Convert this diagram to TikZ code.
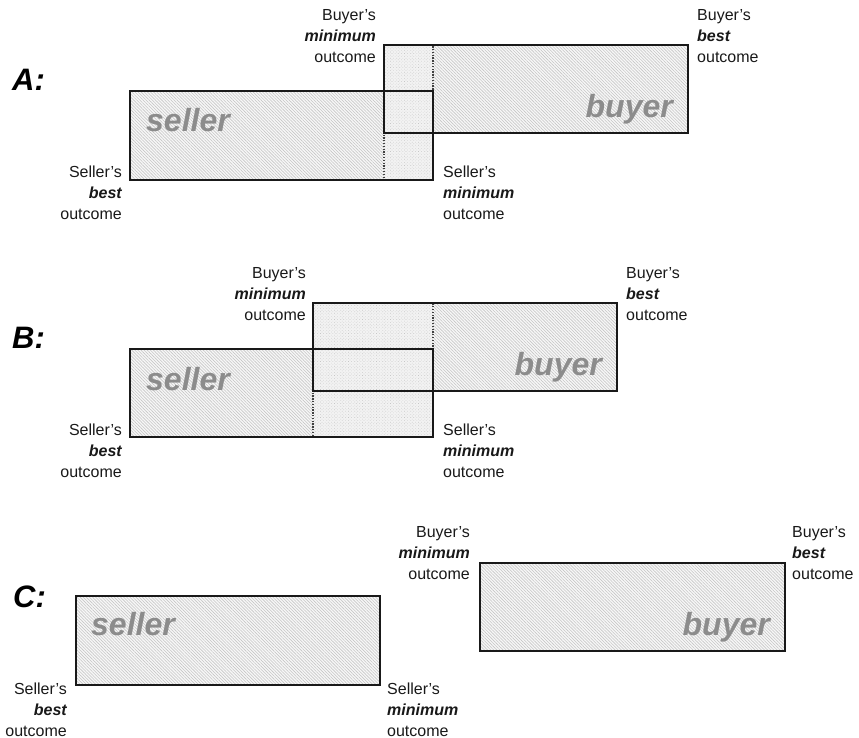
\documentclass[tikz,border=0pt]{standalone}
\usepackage{fontspec}
\setmainfont{Liberation Sans}
\usetikzlibrary{patterns.meta}
\tikzset{
  hatch/.style={fill=gray!6, postaction={pattern={Lines[angle=-45,distance=2.2pt,line width=0.6pt]}, pattern color=gray!45}},
  dotzone/.style={fill=gray!10, postaction={pattern={Dots[angle=45,distance=2.2pt,radius=0.45pt]}, pattern color=gray!45}},
  outline/.style={draw=black!90, line width=2pt},
  dotline/.style={draw=black!75, line width=1.3pt, dash pattern=on 1.3pt off 1.5pt},
  lab/.style={font=\fontsize{16}{21}\selectfont, inner sep=0pt, text=black!90},
  who/.style={font=\fontsize{32}{36}\selectfont\bfseries\itshape, text=gray!90, inner sep=0pt},
  panel/.style={font=\fontsize{31}{34}\selectfont\bfseries\itshape, inner sep=0pt, anchor=base west},
}
\newcommand{\bbi}[1]{{\bfseries\itshape #1}}
\begin{document}
\begin{tikzpicture}[x=1pt,y=-1pt]
\useasboundingbox (0,0) rectangle (859,738);
% ---------------- A ----------------
\node[panel] (pA) at (12,91) {A:};
\path[hatch] (130,91) rectangle (433,180);
\path[hatch] (384,45) rectangle (688,133);
\path[dotzone] (384,45) rectangle (433,180);
\path[dotline] (384,45) rectangle (433,180);
\path[outline] (130,91) rectangle (433,180);
\path[outline] (384,45) rectangle (688,133);
\node[who, anchor=base west] (sA) at (146,132) {seller};
\node[who, anchor=base east] (bA) at (673,118) {buyer};
\node[lab, align=right, anchor=north east] (bmA) at (376,9.4) {Buyer's\\\bbi{minimum}\\outcome};
\node[lab, align=left, anchor=north west] (bbA) at (697,9.4) {Buyer's\\\bbi{best}\\outcome};
\node[lab, align=right, anchor=north east] (sbA) at (122,165.4) {Seller's\\\bbi{best}\\outcome};
\node[lab, align=left, anchor=north west] (smA) at (443,165.4) {Seller's\\\bbi{minimum}\\outcome};
% ---------------- B ----------------
\node[panel] (pB) at (12,348) {B:};
\path[hatch] (130,349) rectangle (433,437);
\path[hatch] (313,303) rectangle (617,391);
\path[dotzone] (313,303) rectangle (433,437);
\path[dotline] (313,303) rectangle (433,437);
\path[outline] (130,349) rectangle (433,437);
\path[outline] (313,303) rectangle (617,391);
\node[who, anchor=base west] (sB) at (146,390) {seller};
\node[who, anchor=base east] (bB) at (602,375) {buyer};
\node[lab, align=right, anchor=north east] (bmB) at (306,267.4) {Buyer's\\\bbi{minimum}\\outcome};
\node[lab, align=left, anchor=north west] (bbB) at (626,267.4) {Buyer's\\\bbi{best}\\outcome};
\node[lab, align=right, anchor=north east] (sbB) at (122,423.4) {Seller's\\\bbi{best}\\outcome};
\node[lab, align=left, anchor=north west] (smB) at (443,423.4) {Seller's\\\bbi{minimum}\\outcome};
% ---------------- C ----------------
\node[panel] (pC) at (13,607) {C:};
\path[hatch] (76,596) rectangle (380,685);
\path[hatch] (480,563) rectangle (785,651);
\path[outline] (76,596) rectangle (380,685);
\path[outline] (480,563) rectangle (785,651);
\node[who, anchor=base west] (sC) at (91,635) {seller};
\node[who, anchor=base east] (bC) at (770,635) {buyer};
\node[lab, align=right, anchor=north east] (bmC) at (470,526.4) {Buyer's\\\bbi{minimum}\\outcome};
\node[lab, align=left, anchor=north west] (bbC) at (792,526.4) {Buyer's\\\bbi{best}\\outcome};
\node[lab, align=right, anchor=north east] (sbC) at (67,682.4) {Seller's\\\bbi{best}\\outcome};
\node[lab, align=left, anchor=north west] (smC) at (387,682.4) {Seller's\\\bbi{minimum}\\outcome};
\end{tikzpicture}
\end{document}
